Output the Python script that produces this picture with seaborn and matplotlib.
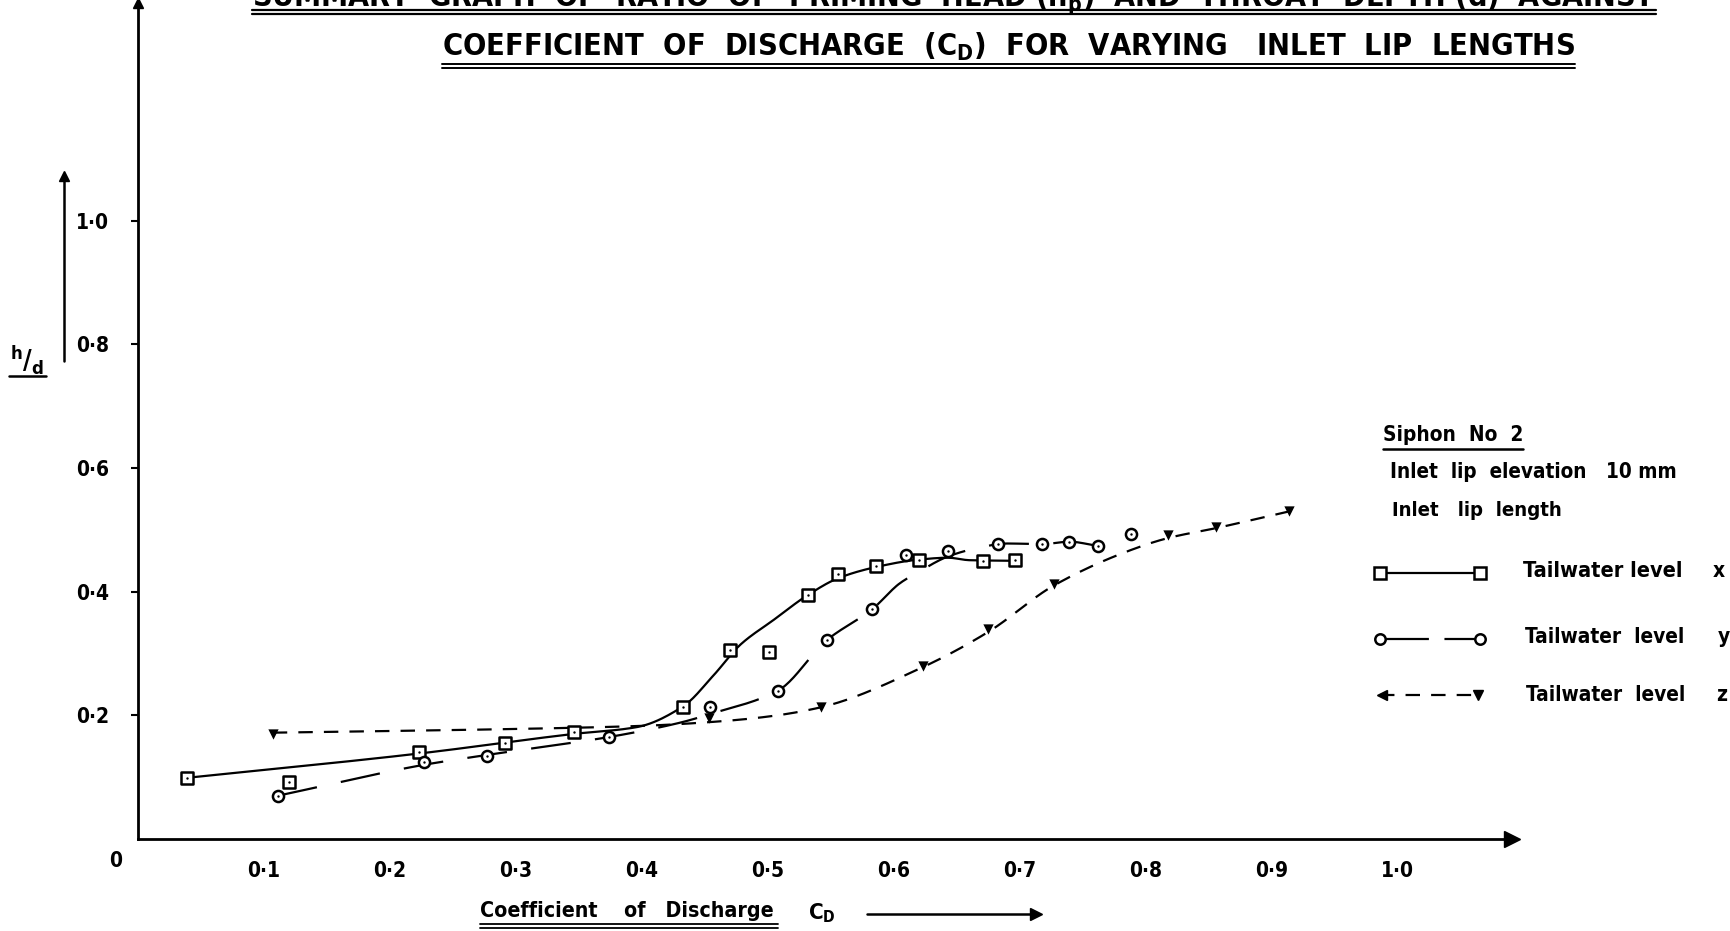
import numpy as np
import pandas as pd
import matplotlib
matplotlib.use("Agg")
import matplotlib.pyplot as plt
from matplotlib.lines import Line2D
import seaborn as sns

# ---------------- data ----------------
# Tailwater level x (squares)
cd_x = [0.039, 0.120, 0.223, 0.291, 0.346, 0.433, 0.470, 0.501, 0.532, 0.556, 0.586, 0.620, 0.671, 0.696]
hd_x = [0.099, 0.092, 0.141, 0.156, 0.173, 0.213, 0.305, 0.303, 0.395, 0.428, 0.441, 0.451, 0.450, 0.451]
# faired curve for series x
fit_cd_x = [0.039, 0.222, 0.346, 0.396, 0.433, 0.457, 0.478, 0.505, 0.532, 0.556, 0.586, 0.620, 0.643, 0.660, 0.696]
fit_hd_x = [0.099, 0.138, 0.170, 0.181, 0.215, 0.265, 0.314, 0.355, 0.395, 0.422, 0.440, 0.452, 0.455, 0.451, 0.450]

# Tailwater level y (circles)
cd_y = [0.111, 0.227, 0.277, 0.374, 0.454, 0.508, 0.547, 0.583, 0.610, 0.643, 0.683, 0.718, 0.739, 0.762, 0.788]
hd_y = [0.070, 0.124, 0.135, 0.165, 0.213, 0.240, 0.322, 0.372, 0.460, 0.466, 0.478, 0.477, 0.481, 0.474, 0.493]
fit_cd_y = [0.111, 0.227, 0.277, 0.374, 0.430, 0.454, 0.508, 0.547, 0.583, 0.605, 0.618, 0.643, 0.665, 0.690, 0.718, 0.739, 0.762]
fit_hd_y = [0.070, 0.120, 0.136, 0.165, 0.188, 0.202, 0.240, 0.322, 0.372, 0.414, 0.430, 0.457, 0.470, 0.478, 0.477, 0.481, 0.474]

# Tailwater level z (triangles)
cd_z = [0.107, 0.453, 0.542, 0.623, 0.675, 0.727, 0.818, 0.856, 0.914]
hd_z = [0.170, 0.195, 0.213, 0.280, 0.339, 0.413, 0.492, 0.505, 0.531]
fit_cd_z = [0.107, 0.300, 0.400, 0.460, 0.500, 0.542, 0.623, 0.675, 0.727, 0.785, 0.818, 0.856, 0.914]
fit_hd_z = [0.172, 0.178, 0.183, 0.190, 0.198, 0.213, 0.278, 0.335, 0.410, 0.465, 0.487, 0.503, 0.530]

x_ticks = [0.1, 0.2, 0.3, 0.4, 0.5, 0.6, 0.7, 0.8, 0.9, 1.0]
x_tick_labels = ["0·1", "0·2", "0·3", "0·4", "0·5", "0·6", "0·7", "0·8", "0·9", "1·0"]
y_ticks = [0.2, 0.4, 0.6, 0.8, 1.0]
y_tick_labels = ["0·2", "0·4", "0·6", "0·8", "1·0"]

title_1 = "SUMMARY  GRAPH  OF  RATIO  OF  PRIMING  HEAD (h$_{\\mathregular{p}}$)  AND  THROAT  DEPTH (d)  AGAINST"
title_2 = "COEFFICIENT  OF  DISCHARGE  (C$_{\\mathregular{D}}$)  FOR  VARYING   INLET  LIP  LENGTHS"
x_title = "Coefficient    of   Discharge"
x_symbol = "C$_{\\mathregular{D}}$"
legend_head = ["Siphon  No  2", "Inlet  lip  elevation   10 mm", "Inlet   lip  length"]
legend_rows = [("Tailwater level", "x"), ("Tailwater  level", "y"), ("Tailwater  level", "z")]


def pchip(xk, yk, n=400):
    """Shape-preserving cubic through the faired-curve knots."""
    xk = np.asarray(xk, float)
    yk = np.asarray(yk, float)
    h = np.diff(xk)
    delta = np.diff(yk) / h
    d = np.zeros_like(xk)
    for k in range(1, len(xk) - 1):
        if delta[k - 1] * delta[k] <= 0:
            d[k] = 0.0
        else:
            w1 = 2 * h[k] + h[k - 1]
            w2 = h[k] + 2 * h[k - 1]
            d[k] = (w1 + w2) / (w1 / delta[k - 1] + w2 / delta[k])
    d[0] = delta[0]
    d[-1] = delta[-1]
    xs = np.linspace(xk[0], xk[-1], n)
    idx = np.clip(np.searchsorted(xk, xs) - 1, 0, len(h) - 1)
    t = (xs - xk[idx]) / h[idx]
    h00 = 2 * t**3 - 3 * t**2 + 1
    h10 = t**3 - 2 * t**2 + t
    h01 = -2 * t**3 + 3 * t**2
    h11 = t**3 - t**2
    ys = h00 * yk[idx] + h10 * h[idx] * d[idx] + h01 * yk[idx + 1] + h11 * h[idx] * d[idx + 1]
    return xs, ys


# ---------------- styling ----------------
sns.set_theme(style="white")
plt.rcParams["font.family"] = ["DejaVu Sans"]
plt.rcParams["font.weight"] = "bold"
plt.rcParams["font.stretch"] = "condensed"
plt.rcParams["mathtext.default"] = "regular"
for key in ["text.color", "axes.labelcolor", "xtick.color", "ytick.color", "axes.edgecolor"]:
    plt.rcParams[key] = "black"

W, H = 1731, 931
fig = plt.figure(figsize=(W / 100, H / 100), dpi=100)
fig.patch.set_facecolor("white")

TXT = dict(fontweight="bold", fontstretch="condensed", color="black")


def fp(x, y):
    return x / W, 1 - y / H


# axes: origin at (138, 839) px, 1.0 on x at 1398 px, 1.0 on y at 221 px
x0, y0, x1, y1 = 138, 839, 1512, 3
sx, sy = 1259.7, 618.2
ax = fig.add_axes([x0 / W, 1 - y0 / H, (x1 - x0) / W, (y0 - y1) / H])
ax.set_xlim(0, (x1 - x0) / sx)
ax.set_ylim(0, (y0 - y1) / sy)
ax.set_facecolor("white")
for s in ["top", "right"]:
    ax.spines[s].set_visible(False)
for s in ["left", "bottom"]:
    ax.spines[s].set_linewidth(2.0)
    ax.spines[s].set_color("black")
ax.plot([1], [0], marker=">", color="black", ms=11, transform=ax.transAxes, clip_on=False)
ax.plot([0], [1], marker="^", color="black", ms=7, transform=ax.transAxes, clip_on=False)

ax.set_xticks(x_ticks)
ax.set_xticklabels(x_tick_labels)
ax.set_yticks(y_ticks)
ax.set_yticklabels(y_tick_labels)
ax.tick_params(axis="x", length=0, pad=16, labelsize=15)
ax.tick_params(axis="y", direction="out", length=5, width=1.5, pad=16, labelsize=15, left=True)
for lab in ax.get_xticklabels() + ax.get_yticklabels():
    lab.set_fontweight("bold")
    lab.set_fontstretch("condensed")
ax.grid(False)

# ---------------- curves ----------------
LW = 1.6
xs, ys = pchip(fit_cd_x, fit_hd_x)
ax.plot(xs, ys, color="black", lw=LW, solid_capstyle="round")

xs, ys = pchip(fit_cd_y, fit_hd_y)
ax.plot(xs, ys, color="black", lw=LW, dashes=(18, 11))

xs, ys = pchip(fit_cd_z, fit_hd_z)
ax.plot(xs, ys, color="black", lw=LW, dashes=(6.5, 5))

# ---------------- points ----------------
df_x = pd.DataFrame({"cd": cd_x, "hd": hd_x})
df_y = pd.DataFrame({"cd": cd_y, "hd": hd_y})
df_z = pd.DataFrame({"cd": cd_z, "hd": hd_z})

sns.scatterplot(data=df_x, x="cd", y="hd", marker="s", s=72, facecolor="white",
                edgecolor="black", linewidth=1.8, ax=ax, zorder=4)
sns.scatterplot(data=df_x, x="cd", y="hd", marker="o", s=3, color="black",
                linewidth=0, ax=ax, zorder=5)
sns.scatterplot(data=df_y, x="cd", y="hd", marker="o", s=64, facecolor="white",
                edgecolor="black", linewidth=1.8, ax=ax, zorder=4)
sns.scatterplot(data=df_y, x="cd", y="hd", marker="o", s=3, color="black",
                linewidth=0, ax=ax, zorder=5)
sns.scatterplot(data=df_z, x="cd", y="hd", marker="v", s=55, color="black",
                linewidth=0, ax=ax, zorder=4)
ax.set_xlabel("")
ax.set_ylabel("")

# origin label
fig.text(*fp(116, 861), "0", fontsize=15, ha="center", va="center", **TXT)

# ---------------- y-axis label and arrow ----------------
fig.text(*fp(27, 360), r"$^{h}/_{d}$", fontsize=19, ha="center", va="center", **TXT)
fig.add_artist(Line2D([9 / W, 46 / W], [1 - 376 / H] * 2, color="black", lw=1.8))
fig.add_artist(Line2D([64 / W, 64 / W], [1 - 361 / H, 1 - 180 / H], color="black", lw=1.8))
fig.add_artist(Line2D([64 / W], [1 - 176 / H], marker="^", ms=7, color="black"))

# ---------------- texts (sized to their span) ----------------
texts = []


def label(x, y, s, width, size, **kw):
    t = fig.text(*fp(x, y), s, fontsize=size, ha="left", **kw, **TXT)
    texts.append((t, width))
    return t


label(480, 911, x_title, 293, 15, va="center")
fig.text(*fp(822, 913), x_symbol, fontsize=16, ha="center", va="center", **TXT)
label(252, 6, title_1, 1404, 26, va="baseline")
label(442, 56, title_2, 1133, 24, va="baseline")
label(1383, 435, legend_head[0], 140, 15, va="center")
label(1390, 472, legend_head[1], 288, 15, va="center")
label(1392, 511, legend_head[2], 171, 15, va="center")

row_y = [571, 637, 695]
text_x = [1523, 1525, 1526]
letter_x = [1719, 1724, 1722]
for i, ((lab_s, letter), ry) in enumerate(zip(legend_rows, row_y)):
    label(text_x[i], ry, lab_s, 160, 15, va="center")
    fig.text(*fp(letter_x[i], ry), letter, fontsize=15, ha="center", va="center", **TXT)

fig.canvas.draw()
renderer = fig.canvas.get_renderer()
for t, width in texts:
    bb = t.get_window_extent(renderer)
    if bb.width > 0:
        t.set_fontsize(t.get_fontsize() * width / bb.width)

# underlines and arrows for the text blocks
for yy in (924, 928):
    fig.add_artist(Line2D([480 / W, 778 / W], [1 - yy / H] * 2, color="black", lw=1.3))
fig.add_artist(Line2D([867 / W, 1030 / W], [1 - 914 / H] * 2, color="black", lw=1.8))
fig.add_artist(Line2D([1036 / W], [1 - 914 / H], marker=">", ms=9, color="black"))
for yy in (10, 14):
    fig.add_artist(Line2D([252 / W, 1656 / W], [1 - yy / H] * 2, color="black", lw=1.6))
for yy in (64, 68):
    fig.add_artist(Line2D([442 / W, 1575 / W], [1 - yy / H] * 2, color="black", lw=1.4))
fig.add_artist(Line2D([1383 / W, 1523 / W], [1 - 449 / H] * 2, color="black", lw=1.8))

# ---------------- legend samples ----------------
ly = [1 - 573 / H] * 2
fig.add_artist(Line2D([1380 / W, 1480 / W], ly, color="black", lw=LW))
fig.add_artist(Line2D([1380 / W, 1480 / W], ly, ls="none", marker="s", ms=8, mfc="white",
                      mec="black", mew=1.8))
ly = [1 - 639 / H] * 2
fig.add_artist(Line2D([1380 / W, 1480 / W], ly, color="black", lw=LW, dashes=(22, 7)))
fig.add_artist(Line2D([1380 / W, 1480 / W], ly, ls="none", marker="o", ms=7.5, mfc="white",
                      mec="black", mew=1.8))
ly = [1 - 695 / H] * 2
fig.add_artist(Line2D([1380 / W, 1478 / W], ly, color="black", lw=LW, dashes=(6.5, 5)))
fig.add_artist(Line2D([1382 / W], [ly[0]], marker="<", ms=7, color="black"))
fig.add_artist(Line2D([1478 / W], [ly[0]], marker="v", ms=7.5, color="black"))

fig.savefig("out.png", dpi=100, facecolor="white")
